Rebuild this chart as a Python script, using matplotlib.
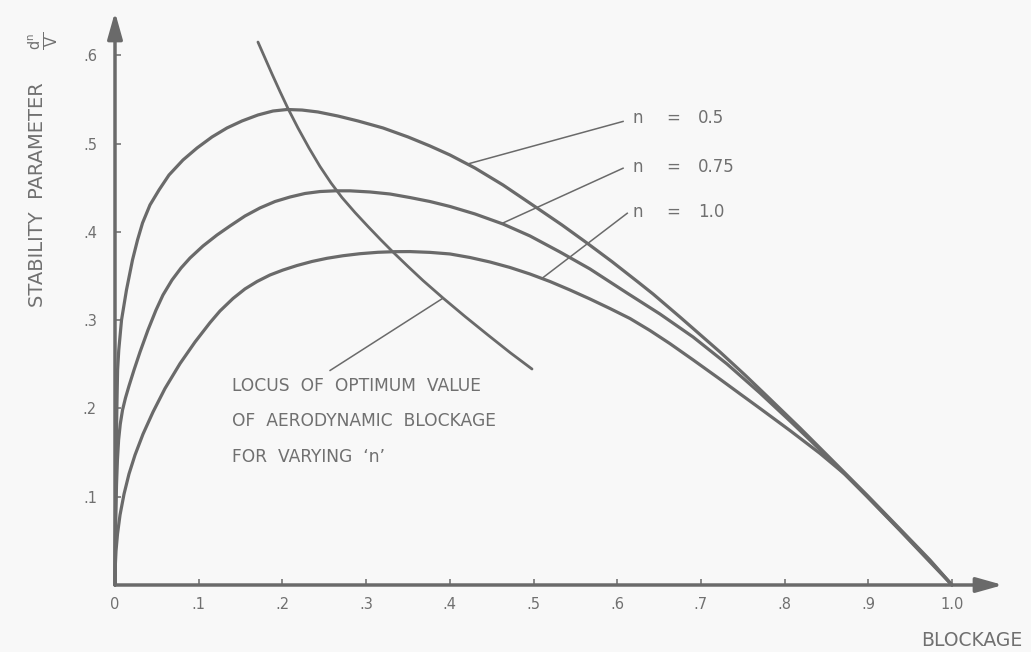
import numpy as np
import matplotlib
matplotlib.use("Agg")
import matplotlib.pyplot as plt

# ---------------- data ----------------
x_n05 = [0, 0.0001, 0.0005, 0.0010, 0.0016, 0.0024, 0.0031, 0.0045, 0.0078, 0.0137,
         0.0209, 0.0269, 0.0329, 0.0418, 0.0526, 0.0645, 0.0812, 0.0980, 0.1159, 0.1338,
         0.1517, 0.1708, 0.1888, 0.2055, 0.2234, 0.2425, 0.2664, 0.2903, 0.3202, 0.3501,
         0.3763, 0.4002, 0.4301, 0.4636, 0.5042, 0.5341, 0.5639, 0.5938, 0.6249, 0.6428,
         0.6750, 0.7228, 0.7527, 0.7826, 0.8184, 0.8602, 0.8984, 0.9379, 0.9737, 1.0]
y_n05 = [0, 0.0283, 0.0736, 0.1189, 0.1642, 0.2095, 0.2435, 0.2661, 0.3001, 0.3341,
         0.3681, 0.3907, 0.4100, 0.4304, 0.4474, 0.4643, 0.4813, 0.4949, 0.5074, 0.5176,
         0.5255, 0.5323, 0.5368, 0.5385, 0.5379, 0.5357, 0.5311, 0.5255, 0.5176, 0.5074,
         0.4972, 0.4870, 0.4722, 0.4530, 0.4270, 0.4077, 0.3873, 0.3662, 0.3431, 0.3296,
         0.3035, 0.2639, 0.2378, 0.2106, 0.1778, 0.1382, 0.1019, 0.0634, 0.0283, 0.0]

x_n075 = [0, 0.0004, 0.0010, 0.0018, 0.0029, 0.0043, 0.0063, 0.0090, 0.0125, 0.0167,
          0.0227, 0.0299, 0.0394, 0.0490, 0.0573, 0.0681, 0.0789, 0.0896, 0.1051, 0.1219,
          0.1374, 0.1553, 0.1732, 0.1912, 0.2091, 0.2270, 0.2449, 0.2628, 0.2808, 0.3047,
          0.3286, 0.3524, 0.3763, 0.4002, 0.4301, 0.4636, 0.4958, 0.5317, 0.5675, 0.6117,
          0.6511, 0.6906, 0.7312, 0.7706, 0.8065, 0.8303, 0.8662, 0.8984, 0.9379, 0.9737, 1.0]
y_n075 = [0, 0.0396, 0.0793, 0.1133, 0.1416, 0.1642, 0.1823, 0.1982, 0.2118, 0.2254,
          0.2435, 0.2639, 0.2888, 0.3114, 0.3284, 0.3454, 0.3590, 0.3703, 0.3839, 0.3964,
          0.4066, 0.4179, 0.4270, 0.4343, 0.4394, 0.4434, 0.4456, 0.4464, 0.4464, 0.4451,
          0.4428, 0.4388, 0.4343, 0.4287, 0.4202, 0.4088, 0.3953, 0.3771, 0.3579, 0.3307,
          0.3069, 0.2809, 0.2503, 0.2174, 0.1857, 0.1642, 0.1308, 0.1008, 0.0623, 0.0272, 0.0]

x_n10 = [0, 0.0004, 0.0012, 0.0030, 0.0060, 0.0108, 0.0167, 0.0239, 0.0335, 0.0454,
         0.0597, 0.0777, 0.0956, 0.1135, 0.1254, 0.1410, 0.1553, 0.1697, 0.1852, 0.2007,
         0.2174, 0.2354, 0.2533, 0.2724, 0.2927, 0.3142, 0.3345, 0.3524, 0.3763, 0.4002,
         0.4241, 0.4480, 0.4719, 0.4958, 0.5197, 0.5436, 0.5675, 0.5914, 0.6153, 0.6392,
         0.6631, 0.6906, 0.7228, 0.7467, 0.7706, 0.8065, 0.8423, 0.8722, 0.8984, 0.9379,
         0.9737, 1.0]
y_n10 = [0, 0.0227, 0.0385, 0.0578, 0.0793, 0.1031, 0.1257, 0.1472, 0.1710, 0.1959,
         0.2225, 0.2508, 0.2752, 0.2971, 0.3103, 0.3245, 0.3353, 0.3437, 0.3511, 0.3567,
         0.3618, 0.3664, 0.3700, 0.3729, 0.3752, 0.3768, 0.3775, 0.3776, 0.3767, 0.3749,
         0.3709, 0.3658, 0.3596, 0.3522, 0.3437, 0.3341, 0.3239, 0.3131, 0.3018, 0.2882,
         0.2733, 0.2550, 0.2331, 0.2165, 0.2000, 0.1749, 0.1490, 0.1253, 0.1002, 0.0617,
         0.0260, 0.0]

x_locus = [0.1708, 0.1792, 0.1876, 0.1971, 0.2067, 0.2186, 0.2318, 0.2449, 0.2581, 0.2712,
           0.2867, 0.3023, 0.3178, 0.3321, 0.3501, 0.3680, 0.3919, 0.4182, 0.4456, 0.4719,
           0.4982]
y_locus = [0.6149, 0.5968, 0.5787, 0.5589, 0.5396, 0.5176, 0.4949, 0.4740, 0.4553, 0.4388,
           0.4219, 0.4060, 0.3907, 0.3771, 0.3607, 0.3448, 0.3250, 0.3041, 0.2831, 0.2633,
           0.2446]

x_ticks = [0, 0.1, 0.2, 0.3, 0.4, 0.5, 0.6, 0.7, 0.8, 0.9, 1.0]
x_tick_labels = ['0', '.1', '.2', '.3', '.4', '.5', '.6', '.7', '.8', '.9', '1.0']
y_ticks = [0.1, 0.2, 0.3, 0.4, 0.5, 0.6]
y_tick_labels = ['.1', '.2', '.3', '.4', '.5', '.6']

n_labels = ['0.5', '0.75', '1.0']
locus_text = ['LOCUS  OF  OPTIMUM  VALUE', 'OF  AERODYNAMIC  BLOCKAGE',
              'FOR  VARYING  \u2018n\u2019']

# ---------------- figure ----------------
plt.rcParams['font.family'] = ['DejaVu Sans']
plt.rcParams['mathtext.default'] = 'regular'

W, H = 1031, 652
BG = '#f8f8f8'
INK = '#6a6a6a'
TXT = '#707070'

fig = plt.figure(figsize=(W / 100, H / 100), dpi=100)
fig.patch.set_facecolor(BG)

ax = fig.add_axes([115 / W, 67 / H, 888 / W, 573 / H])
ax.set_xlim(0, 888 / 837)
ax.set_ylim(0, 573 / 883)
ax.patch.set_visible(False)
for s in ax.spines.values():
    s.set_visible(False)

# axes with arrows
xmax = ax.get_xlim()[1]
ymax = ax.get_ylim()[1]
arrow = dict(arrowstyle='-|>,head_length=1.6,head_width=0.45', lw=2.5, color=INK,
             shrinkA=0, shrinkB=0, mutation_scale=10)
ax.annotate('', xy=(xmax, 0), xytext=(0, 0), arrowprops=arrow, annotation_clip=False)
ax.annotate('', xy=(0, ymax), xytext=(0, 0), arrowprops=arrow, annotation_clip=False)

# ticks
ax.set_xticks(x_ticks)
ax.set_xticklabels(x_tick_labels)
ax.set_yticks(y_ticks)
ax.set_yticklabels(y_tick_labels)
ax.tick_params(axis='both', direction='in', length=4.5, width=1.1, color=INK,
               labelcolor=TXT, labelsize=10.5)
ax.tick_params(axis='x', pad=8.5)
ax.tick_params(axis='y', pad=13)

# curves
for xs, ys in [(x_n05, y_n05), (x_n075, y_n075), (x_n10, y_n10)]:
    ax.plot(xs, ys, color=INK, lw=2.3, solid_capstyle='round', solid_joinstyle='round',
            clip_on=False)
ax.plot(x_locus, y_locus, color=INK, lw=2.0, solid_capstyle='round',
        solid_joinstyle='round', clip_on=False)

# leader lines for n labels
leaders = [((0.421, x_n05, y_n05), (0.607, 0.525)),
           ((0.462, x_n075, y_n075), (0.607, 0.472)),
           ((0.510, x_n10, y_n10), (0.612, 0.421))]
for (x0, xs, ys), (x1, y1) in leaders:
    y0 = np.interp(x0, xs, ys)
    ax.plot([x0, x1], [y0, y1], color=INK, lw=1.1)

# locus leader
lx0 = 0.392
ly0 = np.interp(lx0, x_locus, y_locus)
ax.plot([lx0, 0.257], [ly0, 0.243], color=INK, lw=1.1)

# n labels
for lab, yc in zip(n_labels, [118, 167, 212]):
    fig.text(632 / W, 1 - yc / H, 'n', ha='left', va='center', fontsize=12, color=TXT)
    fig.text(666 / W, 1 - yc / H, '=', ha='left', va='center', fontsize=12, color=TXT)
    fig.text(698 / W, 1 - yc / H, lab, ha='left', va='center', fontsize=12, color=TXT)

# locus text
for line, yc in zip(locus_text, [386, 421, 457]):
    fig.text(232 / W, 1 - yc / H, line, ha='left', va='center', fontsize=12.3, color=TXT)

# axis titles
fig.text(37.5 / W, 1 - 195 / H, 'STABILITY  PARAMETER', rotation=90, ha='center',
         va='center', fontsize=14, color=TXT)
fig.text(43 / W, 1 - 41 / H, r'$\frac{d^n}{V}$', rotation=90, ha='center', va='center',
         fontsize=15, color=TXT)
fig.text(972 / W, 1 - 640 / H, 'BLOCKAGE', ha='center', va='center', fontsize=13.5,
         color=TXT)

fig.savefig('out.png', dpi=100, facecolor=BG)
